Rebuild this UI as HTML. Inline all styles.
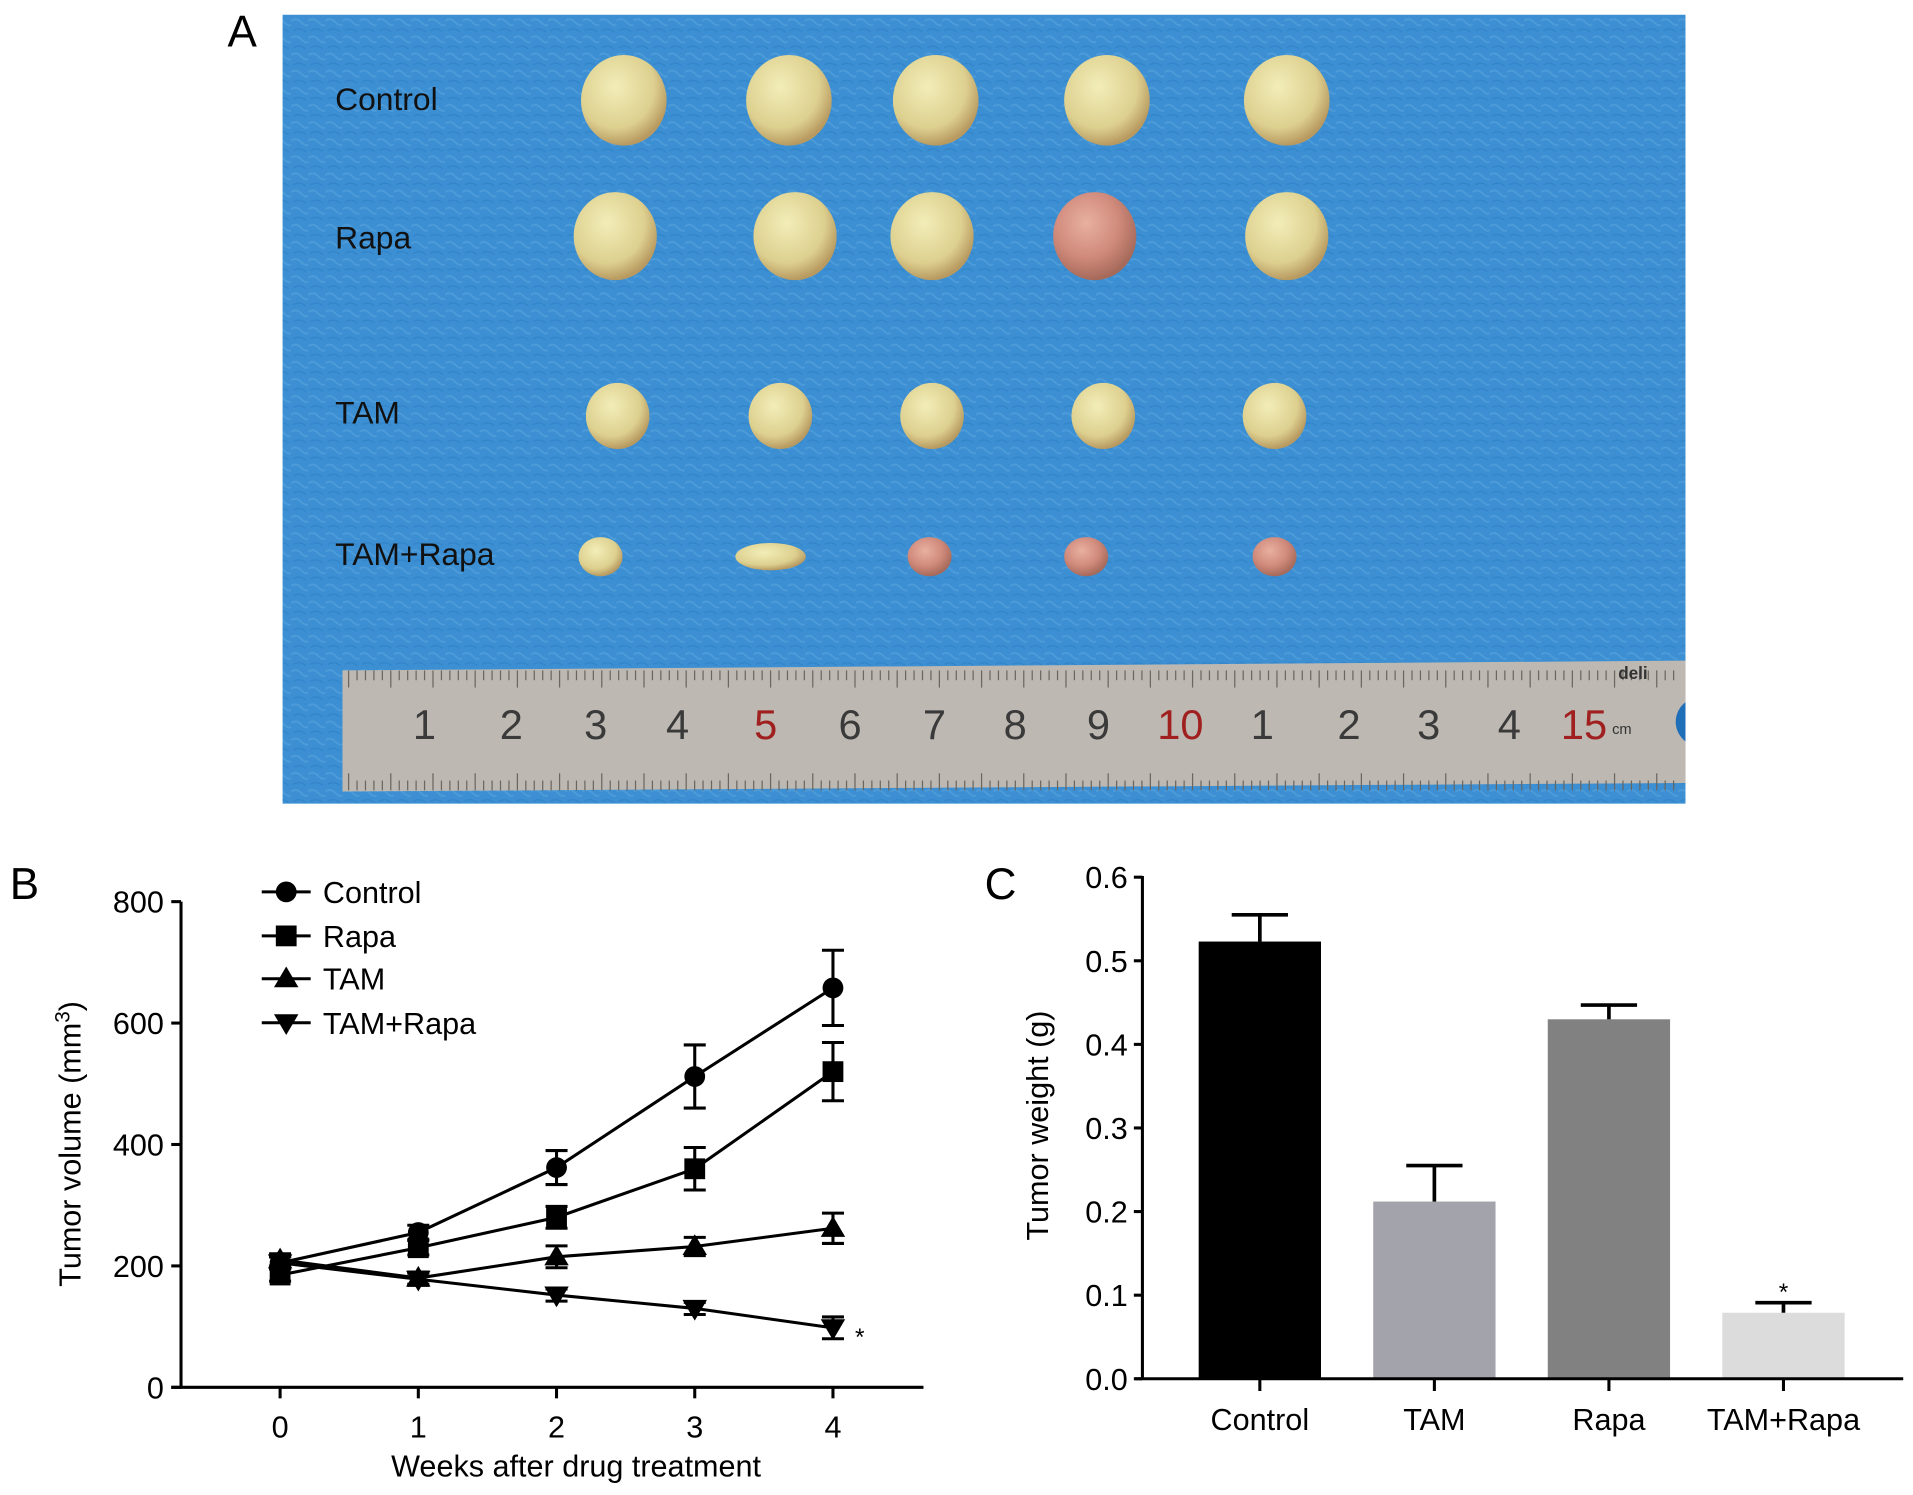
<!DOCTYPE html>
<html><head><meta charset="utf-8"><style>
html,body{margin:0;padding:0;background:#fff;}
svg{display:block;font-family:"Liberation Sans",Arial,sans-serif;}
</style></head><body>
<svg id="fig" width="1913" height="1495" viewBox="0 0 1564 1222" preserveAspectRatio="none">
<defs>
<pattern id="tex" width="14" height="14" patternUnits="userSpaceOnUse">
<rect width="14" height="14" fill="#3b8fd2"/>
<path d="M0 3 Q4 0 8 4 T14 6" stroke="#5aa4de" stroke-width="1.5" fill="none" opacity="0.6"/>
<path d="M2 11 Q7 8 12 12" stroke="#2e7fc4" stroke-width="1.2" fill="none" opacity="0.6"/>
</pattern>
<radialGradient id="tum" cx="40%" cy="35%" r="65%">
<stop offset="0" stop-color="#f2edb8"/><stop offset="0.7" stop-color="#ddd08f"/><stop offset="1" stop-color="#b89a60"/>
</radialGradient>
<radialGradient id="tumr" cx="40%" cy="35%" r="65%">
<stop offset="0" stop-color="#e8b0a0"/><stop offset="0.6" stop-color="#d08a7c"/><stop offset="1" stop-color="#a66a5a"/>
</radialGradient>
<clipPath id="photoClip"><rect x="231" y="12" width="1147" height="645"/></clipPath>
</defs>
<text x="186" y="38" font-size="36">A</text>
<g clip-path="url(#photoClip)">
<rect x="231" y="12" width="1147" height="645" fill="url(#tex)"/>
<text x="274" y="90" font-size="26" fill="#111">Control</text>
<text x="274" y="203" font-size="26" fill="#111">Rapa</text>
<text x="274" y="346" font-size="26" fill="#111">TAM</text>
<text x="274" y="462" font-size="26" fill="#111">TAM+Rapa</text>
<g id="tumors"></g>
<g>
<path d="M280 548 L1378 540 L1378 640 L280 647 Z" fill="#bdb8b1"/>
<g id="rticks"></g>
<g id="rnums" font-size="34" fill="#3a3a3a"></g>
<text x="1323" y="555" font-size="14" font-weight="bold" fill="#333">deli</text>
<text x="1318" y="600" font-size="12" fill="#333">cm</text>
<circle cx="1390" cy="590" r="20" fill="#1f6fb8"/>
</g>
</g>

<text x="8" y="735" font-size="36">B</text>
<g id="chartB"></g>
<text x="805" y="735" font-size="36">C</text>
<g id="chartC"></g>
</svg>
<script>
// ---------- Photo panel decoration ----------
const tumorRows = [82, 193, 340, 455];
const tumorCols = [[510,645,765,905,1052],[503,650,762,895,1052],[505,638,762,902,1042],[491,630,760,888,1042]];
const tumorSizes = [[35,37],[34,36],[26,27],[18,16]];
const tumorRed = [[0,0,0,0,0],[0,0,0,1,0],[0,0,0,0,0],[0,0,1,1,1]];
const NS = "http://www.w3.org/2000/svg";
function mk(tag, attrs, parent){const e=document.createElementNS(NS,tag);for(const k in attrs)e.setAttribute(k,attrs[k]);parent.appendChild(e);return e;}
const tg=document.getElementById('tumors');
tumorRows.forEach((y,r)=>{tumorCols[r].forEach((x,c)=>{
 const e=mk('ellipse',{cx:x,cy:y,rx:tumorSizes[r][0]*(r==3&&c==1?1.6:1),ry:tumorSizes[r][1]*(r==3&&c==1?0.7:1),fill:tumorRed[r][c]?'url(#tumr)':'url(#tum)'},tg);
 
 
});});
const rt=document.getElementById('rticks');
for(let x=285;x<1370;x+=6.9){const h=(Math.round((x-285)/6.9)%5==0)?14:8;mk('line',{x1:x,y1:548,x2:x,y2:548+h,stroke:'#6a6660','stroke-width':1},rt);mk('line',{x1:x,y1:646,x2:x,y2:646-h,stroke:'#6a6660','stroke-width':1},rt);}
const rulerLabels=['1','2','3','4','5','6','7','8','9','10','1','2','3','4','15'];
const rulerX=[347,418,487,554,626,695,764,830,898,965,1032,1103,1168,1234,1295];
const rn=document.getElementById('rnums');
rulerLabels.forEach((t,i)=>{const e=mk('text',{x:rulerX[i],y:604,'text-anchor':'middle',fill:(t=='5'||t=='10'||t=='15')?'#a02020':'#3a3a3a'},rn);e.textContent=t;});

// ---------- Chart B: tumor volume ----------
const weeks = [0,1,2,3,4];
const seriesNames = ['Control','Rapa','TAM','TAM+Rapa'];
const controlVals = [205,255,362,512,658];
const controlErr = [10,12,28,52,62];
const rapaVals = [185,230,280,360,520];
const rapaErr = [10,12,18,35,48];
const tamVals = [210,180,215,232,262];
const tamErr = [10,10,18,15,25];
const tamRapaVals = [205,178,152,130,98];
const tamRapaErr = [10,10,10,10,18];
const yTicksB = [0,200,400,600,800];
const xB = v => 229 + v*113;
const yB = v => 1134 - v*(397/800);
const gB=document.getElementById('chartB');
mk('line',{x1:148,y1:737,x2:148,y2:1135,stroke:'#000','stroke-width':2.5},gB);
mk('line',{x1:140,y1:1134,x2:755,y2:1134,stroke:'#000','stroke-width':2.5},gB);
yTicksB.forEach(v=>{mk('line',{x1:140,y1:yB(v),x2:148,y2:yB(v),stroke:'#000','stroke-width':2.5},gB);
 const t=mk('text',{x:134,y:yB(v)+9,'text-anchor':'end','font-size':25},gB);t.textContent=v;
 
 });
weeks.forEach(w=>{mk('line',{x1:xB(w),y1:1134,x2:xB(w),y2:1143,stroke:'#000','stroke-width':2.5},gB);
 const t=mk('text',{x:xB(w),y:1175,'text-anchor':'middle','font-size':25},gB);t.textContent=w;
 
 });
let yt=mk('text',{x:0,y:0,'text-anchor':'middle','font-size':25,transform:'translate(66,935) rotate(-90)'},gB);
yt.innerHTML='Tumor volume (mm<tspan dy="-9" font-size="17">3</tspan><tspan dy="9">)</tspan>';


let xt=mk('text',{x:471,y:1207,'text-anchor':'middle','font-size':25},gB);xt.textContent='Weeks after drug treatment';


function marker(shape,x,y,p){
 if(shape==0) return mk('circle',{cx:x,cy:y,r:8.5,fill:'#000'},p);
 if(shape==1) return mk('rect',{x:x-8.5,y:y-8.5,width:17,height:17,fill:'#000'},p);
 if(shape==2) return mk('path',{d:`M${x} ${y-10} L${x+10} ${y+7} L${x-10} ${y+7} Z`,fill:'#000'},p);
 return mk('path',{d:`M${x} ${y+10} L${x+10} ${y-7} L${x-10} ${y-7} Z`,fill:'#000'},p);
}
const allVals=[controlVals,rapaVals,tamVals,tamRapaVals];
const allErr=[controlErr,rapaErr,tamErr,tamRapaErr];
allVals.forEach((vals,s)=>{
 const g=mk('g',{},gB);
 
 
 mk('polyline',{points:vals.map((v,i)=>xB(weeks[i])+','+yB(v)).join(' '),fill:'none',stroke:'#000','stroke-width':2.5},g);
 vals.forEach((v,i)=>{const x=xB(weeks[i]),e=allErr[s][i];
  mk('line',{x1:x,y1:yB(v-e),x2:x,y2:yB(v+e),stroke:'#000','stroke-width':2.5},g);
  mk('line',{x1:x-9,y1:yB(v+e),x2:x+9,y2:yB(v+e),stroke:'#000','stroke-width':2.5},g);
  mk('line',{x1:x-9,y1:yB(v-e),x2:x+9,y2:yB(v-e),stroke:'#000','stroke-width':2.5},g);
  const m=marker(s,x,yB(v),g);
  
  
 });
});
let st=mk('text',{x:xB(4)+18,y:yB(tamRapaVals[4])+14,'font-size':20},gB);st.textContent='*';
const legY=[729,765,800,836];
seriesNames.forEach((n,i)=>{const g=mk('g',{},gB);
 
 
 mk('line',{x1:214,y1:legY[i],x2:254,y2:legY[i],stroke:'#000','stroke-width':2.5},g);
 marker(i,234,legY[i],g);
 const t=mk('text',{x:264,y:legY[i]+9,'font-size':25},g);t.textContent=n;});

// ---------- Chart C: tumor weight ----------
const groups = ['Control','TAM','Rapa','TAM+Rapa'];
const weights = [0.523,0.212,0.430,0.079];
const weightErr = [0.032,0.043,0.017,0.012];
const barColors = ['#000000','#a3a3ab','#818181','#dcdcdc'];
const yTicksC = [0.0,0.1,0.2,0.3,0.4,0.5,0.6];
const xC = i => 1030 + i*142.7;
const yC = v => 1127 - v*(410/0.6);
const gC=document.getElementById('chartC');
const bw=100;
weights.forEach((v,i)=>{const x=xC(i);
 const b=mk('rect',{x:x-bw/2,y:yC(v),width:bw,height:yC(0)-yC(v),fill:barColors[i]},gC);
 
 
 const top=yC(v+weightErr[i]);
 mk('line',{x1:x,y1:yC(v),x2:x,y2:top,stroke:'#000','stroke-width':3},gC);
 mk('line',{x1:x-23,y1:top,x2:x+23,y2:top,stroke:'#000','stroke-width':3},gC);
 mk('line',{x1:x,y1:1127,x2:x,y2:1137,stroke:'#000','stroke-width':2.5},gC);
 const t=mk('text',{x:x,y:1169,'text-anchor':'middle','font-size':25},gC);t.textContent=groups[i];
 
 
});
let st2=mk('text',{x:xC(3),y:yC(weights[3]+weightErr[3])-2,'text-anchor':'middle','font-size':20},gC);st2.textContent='*';
mk('line',{x1:934,y1:716,x2:934,y2:1128,stroke:'#000','stroke-width':2.5},gC);
mk('line',{x1:928,y1:1127,x2:1556,y2:1127,stroke:'#000','stroke-width':2.5},gC);
yTicksC.forEach(v=>{mk('line',{x1:927,y1:yC(v),x2:934,y2:yC(v),stroke:'#000','stroke-width':2.5},gC);
 const t=mk('text',{x:922,y:yC(v)+9,'text-anchor':'end','font-size':25},gC);t.textContent=v.toFixed(1);
 
 });
let yt2=mk('text',{x:0,y:0,'text-anchor':'middle','font-size':25,transform:'translate(857,920) rotate(-90)'},gC);yt2.textContent='Tumor weight (g)';


</script>
</body></html>
